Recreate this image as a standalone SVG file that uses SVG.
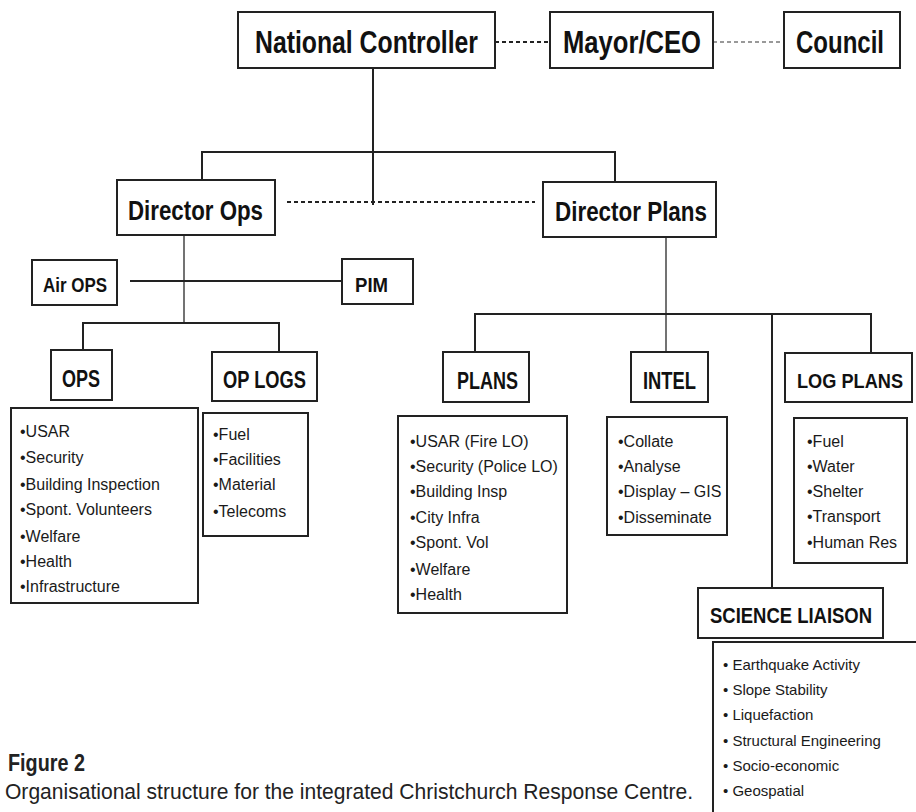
<svg xmlns="http://www.w3.org/2000/svg" width="916" height="812" viewBox="0 0 916 812">
<style>
  .box { fill: #fff; stroke: #222; stroke-width: 2; }
  .hd { font-family: "Liberation Sans", Arial, sans-serif; font-weight: bold; fill: #111; }
  .li { font-family: "Liberation Sans", Arial, sans-serif; font-size: 16px; fill: #1a1a1a; }
  .sci { font-family: "Liberation Sans", Arial, sans-serif; font-size: 15px; fill: #1a1a1a; }
  .ln { fill: none; stroke: #222; stroke-width: 2; }
  .thin { fill: none; stroke: #444; stroke-width: 1.5; }
  .dash { fill: none; stroke: #222; stroke-width: 2; stroke-dasharray: 4 3; }
  .dashg { fill: none; stroke: #999; stroke-width: 2; stroke-dasharray: 4 3; }
  .cap { font-family: "Liberation Sans", Arial, sans-serif; fill: #222; }
</style>
<rect width="916" height="812" fill="#fff"/>

<g id="connectors">
  <path class="dash" d="M495 42 H550"/>
  <path class="dashg" d="M713 42 H784"/>
  <path class="ln" d="M373 68 V205"/>
  <path class="ln" d="M202 180 V152 H615 V182"/>
  <path class="dash" d="M287 202 H535"/>
  <path class="thin" d="M184 235 V323"/>
  <path class="ln" d="M130 281 H342"/>
  <path class="ln" d="M83 350 V323 H279 V352"/>
  <path class="thin" d="M666 237 V352"/>
  <path class="ln" d="M475 352 V314 H871 V353"/>
  <path class="ln" d="M772 314 V588"/>
</g>

<g id="national-controller">
  <rect class="box" x="238" y="12" width="257" height="56"/>
  <text class="hd" x="255" y="53" font-size="32" textLength="223" lengthAdjust="spacingAndGlyphs">National Controller</text>
</g>
<g id="mayor-ceo">
  <rect class="box" x="550" y="12" width="163" height="56"/>
  <text class="hd" x="563" y="53" font-size="32" textLength="138" lengthAdjust="spacingAndGlyphs">Mayor/CEO</text>
</g>
<g id="council">
  <rect class="box" x="784" y="12" width="116" height="56"/>
  <text class="hd" x="796" y="53" font-size="32" textLength="88" lengthAdjust="spacingAndGlyphs">Council</text>
</g>

<g id="director-ops">
  <rect class="box" x="117" y="180" width="158" height="55"/>
  <text class="hd" x="128" y="220" font-size="27" textLength="135" lengthAdjust="spacingAndGlyphs">Director Ops</text>
</g>
<g id="director-plans">
  <rect class="box" x="543" y="182" width="173" height="55"/>
  <text class="hd" x="555" y="221" font-size="27" textLength="152" lengthAdjust="spacingAndGlyphs">Director Plans</text>
</g>

<g id="air-ops">
  <rect class="box" x="32" y="260" width="85" height="45"/>
  <text class="hd" x="43" y="292" font-size="21" textLength="64" lengthAdjust="spacingAndGlyphs">Air OPS</text>
</g>
<g id="pim">
  <rect class="box" x="342" y="259" width="71" height="45"/>
  <text class="hd" x="355" y="292" font-size="21" textLength="33" lengthAdjust="spacingAndGlyphs">PIM</text>
</g>

<g id="ops">
  <rect class="box" x="51" y="350" width="61" height="50"/>
  <text class="hd" x="62" y="387" font-size="23" textLength="38" lengthAdjust="spacingAndGlyphs">OPS</text>
  <rect class="box" x="11" y="408" width="187" height="195"/>
  <text class="li" x="20" y="437">•USAR</text>
  <text class="li" x="20" y="463">•Security</text>
  <text class="li" x="20" y="490">•Building Inspection</text>
  <text class="li" x="20" y="515">•Spont. Volunteers</text>
  <text class="li" x="20" y="542">•Welfare</text>
  <text class="li" x="20" y="567">•Health</text>
  <text class="li" x="20" y="592">•Infrastructure</text>
</g>

<g id="op-logs">
  <rect class="box" x="212" y="352" width="105" height="49"/>
  <text class="hd" x="223" y="388" font-size="23" textLength="83" lengthAdjust="spacingAndGlyphs">OP LOGS</text>
  <rect class="box" x="203" y="413" width="105" height="123"/>
  <text class="li" x="213" y="440">•Fuel</text>
  <text class="li" x="213" y="465">•Facilities</text>
  <text class="li" x="213" y="490">•Material</text>
  <text class="li" x="213" y="517">•Telecoms</text>
</g>

<g id="plans">
  <rect class="box" x="443" y="352" width="86" height="50"/>
  <text class="hd" x="457" y="389" font-size="23" textLength="61" lengthAdjust="spacingAndGlyphs">PLANS</text>
  <rect class="box" x="398" y="416" width="169" height="197"/>
  <text class="li" x="410" y="447">•USAR (Fire LO)</text>
  <text class="li" x="410" y="472">•Security (Police LO)</text>
  <text class="li" x="410" y="497">•Building Insp</text>
  <text class="li" x="410" y="523">•City Infra</text>
  <text class="li" x="410" y="548">•Spont. Vol</text>
  <text class="li" x="410" y="575">•Welfare</text>
  <text class="li" x="410" y="600">•Health</text>
</g>

<g id="intel">
  <rect class="box" x="631" y="352" width="77" height="50"/>
  <text class="hd" x="643" y="389" font-size="23" textLength="53" lengthAdjust="spacingAndGlyphs">INTEL</text>
  <rect class="box" x="607" y="417" width="120" height="118"/>
  <text class="li" x="618" y="447">•Collate</text>
  <text class="li" x="618" y="472">•Analyse</text>
  <text class="li" x="618" y="497">•Display – GIS</text>
  <text class="li" x="618" y="523">•Disseminate</text>
</g>

<g id="log-plans">
  <rect class="box" x="785" y="353" width="127" height="49"/>
  <text class="hd" x="797" y="388" font-size="20" textLength="106" lengthAdjust="spacingAndGlyphs">LOG PLANS</text>
  <rect class="box" x="794" y="418" width="113" height="145"/>
  <text class="li" x="807" y="447">•Fuel</text>
  <text class="li" x="807" y="472">•Water</text>
  <text class="li" x="807" y="497">•Shelter</text>
  <text class="li" x="807" y="522">•Transport</text>
  <text class="li" x="807" y="548">•Human Res</text>
</g>

<g id="science-liaison">
  <rect class="box" x="698" y="588" width="185" height="50"/>
  <text class="hd" x="710" y="623" font-size="22" textLength="162" lengthAdjust="spacingAndGlyphs">SCIENCE LIAISON</text>
  <rect class="box" x="713" y="642" width="215" height="190"/>
  <text class="sci" x="723" y="670">• Earthquake Activity</text>
  <text class="sci" x="723" y="695">• Slope Stability</text>
  <text class="sci" x="723" y="720">• Liquefaction</text>
  <text class="sci" x="723" y="746">• Structural Engineering</text>
  <text class="sci" x="723" y="771">• Socio-economic</text>
  <text class="sci" x="723" y="796">• Geospatial</text>
</g>

<g id="caption">
  <text class="cap" x="8" y="771" font-size="23" font-weight="bold" textLength="77" lengthAdjust="spacingAndGlyphs">Figure 2</text>
  <text class="cap" x="5" y="799" font-size="22" textLength="688" lengthAdjust="spacingAndGlyphs">Organisational structure for the integrated Christchurch Response Centre.</text>
</g>
</svg>
